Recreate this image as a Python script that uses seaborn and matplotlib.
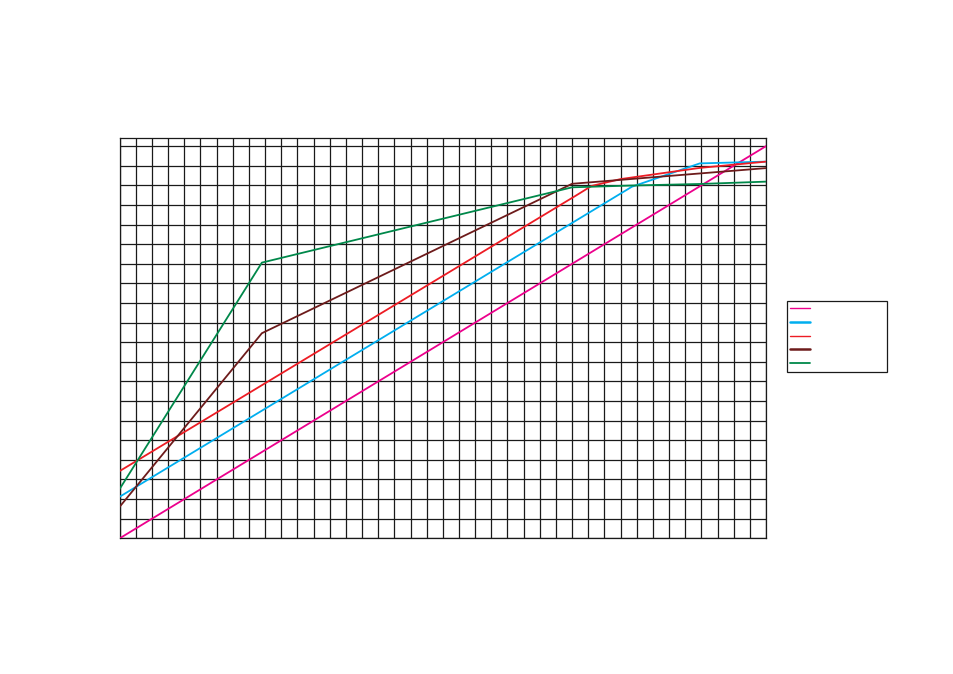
import matplotlib
matplotlib.use("Agg")
import matplotlib.pyplot as plt
import pandas as pd
import seaborn as sns

# ----------------------------------------------------
# Data (grid unit = 1)
# ----------------------------------------------------
MAGENTA_X = [0, 40]
MAGENTA_Y = [0.0, 20.0]

BLUE_X = [0, 31.7, 35.9, 40]
BLUE_Y = [2.12, 17.93, 19.12, 19.21]

RED_X = [0, 28.2, 29.2, 31.0, 35.9, 40]
RED_Y = [3.43, 17.46, 17.97, 18.32, 18.89, 19.21]

MAROON_X = [0, 8.8, 28.0, 40]
MAROON_Y = [1.61, 10.46, 18.08, 18.88]

GREEN_X = [0, 8.8, 28.0, 31.6, 35.9, 40]
GREEN_Y = [2.52, 14.06, 17.90, 17.99, 18.07, 18.19]

SERIES = [
    ("magenta", MAGENTA_X, MAGENTA_Y, "#ec008c", 1.3),
    ("blue",    BLUE_X,    BLUE_Y,    "#00aeef", 1.3),
    ("red",     RED_X,     RED_Y,     "#ed1c24", 1.3),
    ("maroon",  MAROON_X,  MAROON_Y,  "#6d1b1b", 1.3),
    ("green",   GREEN_X,   GREEN_Y,   "#00884a", 1.3),
]
LEGEND_WIDTHS = [1.0, 1.8, 1.0, 1.8, 1.3]

X_MAX = 40
Y_MAX = 20.4


def main():
    sns.set_theme(style="white")
    plt.rcParams["font.family"] = ["DejaVu Sans"]

    fig = plt.figure(figsize=(9.54, 6.74), dpi=100)
    ax = fig.add_axes([119.7 / 954, 1 - 538.3 / 674,
                       (766 - 119.7) / 954, (538.3 - 138.3) / 674])

    for name, xs, ys, color, lw in SERIES:
        df = pd.DataFrame({"x": xs, "y": ys})
        sns.lineplot(ax=ax, data=df, x="x", y="y", color=color,
                     linewidth=lw, sort=False, estimator=None,
                     label=" " * 19, zorder=3)

    ax.set_xlim(0, X_MAX)
    ax.set_ylim(0, Y_MAX)
    ax.set_xticks(range(0, X_MAX + 1))
    ax.set_yticks(range(0, 21))
    ax.set_xticklabels([])
    ax.set_yticklabels([])
    ax.tick_params(length=0)
    ax.set_xlabel("")
    ax.set_ylabel("")
    ax.grid(True, color="#1a1a1a", linewidth=0.9)
    for sp in ax.spines.values():
        sp.set_color("#1a1a1a")
        sp.set_linewidth(0.9)

    handles, labels = ax.get_legend_handles_labels()
    ax.legend().remove()
    leg = fig.legend(handles, labels,
                     loc="upper left", bbox_to_anchor=(787 / 954, 1 - 301 / 674),
                     borderaxespad=0, fontsize=8, handlelength=1.8,
                     labelspacing=0.33, borderpad=0.3, handletextpad=0.6,
                     frameon=True, fancybox=False, edgecolor="#1a1a1a",
                     framealpha=1)
    leg.get_frame().set_linewidth(0.9)
    for h, w in zip(leg.legend_handles, LEGEND_WIDTHS):
        h.set_linewidth(w)

    fig.savefig("out.png", dpi=100, facecolor="white")
    plt.close(fig)


if __name__ == "__main__":
    main()
